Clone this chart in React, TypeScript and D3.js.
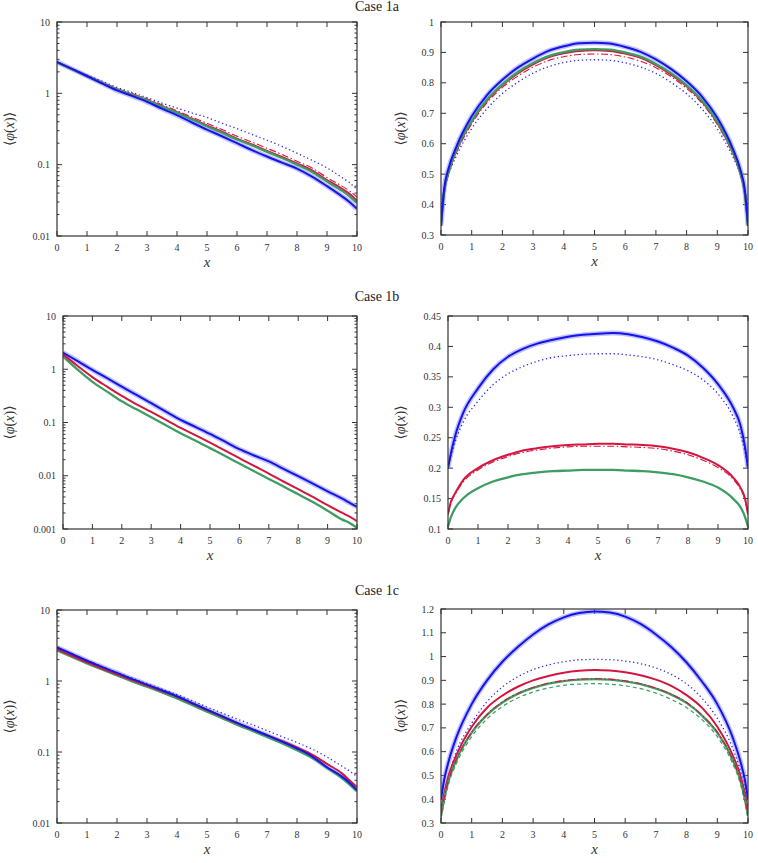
import * as d3 from 'd3';

const W = 758;
const H = 863;

// sample positions
const xGrid = [0, 0.1, 0.25, 0.5, 1, 1.5, 2, 2.5, 3, 3.5, 4, 4.5, 5, 5.5, 6, 6.5, 7, 7.5, 8, 8.5, 9, 9.5, 9.75, 9.9, 10];
const xGridLog = [0, 0.5, 1, 1.5, 2, 2.5, 3, 3.5, 4, 4.5, 5, 5.5, 6, 6.5, 7, 7.5, 8, 8.5, 9, 9.5, 9.75, 10];

const xTicks = [0, 1, 2, 3, 4, 5, 6, 7, 8, 9, 10];
const yTicksLog2 = [0.01, 0.1, 1, 10];
const yTicksLog3 = [0.001, 0.01, 0.1, 1, 10];
const yTicks1a = [0.3, 0.4, 0.5, 0.6, 0.7, 0.8, 0.9, 1];
const yTicks1b = [0.1, 0.15, 0.2, 0.25, 0.3, 0.35, 0.4, 0.45];
const yTicks1c = [0.3, 0.4, 0.5, 0.6, 0.7, 0.8, 0.9, 1, 1.1, 1.2];

// Case 1a, log scale
const c1aLogMC = [2.75, 2.2, 1.75, 1.38, 1.1, 0.92, 0.76, 0.61, 0.495, 0.39, 0.31, 0.25, 0.2, 0.16, 0.13, 0.107, 0.088, 0.068, 0.05, 0.036, 0.03, 0.024];
const c1aLogGreen = [2.72, 2.18, 1.74, 1.39, 1.13, 0.95, 0.8, 0.65, 0.535, 0.43, 0.345, 0.28, 0.225, 0.186, 0.151, 0.124, 0.1, 0.079, 0.058, 0.043, 0.036, 0.029];
const c1aLogRed = [2.72, 2.18, 1.75, 1.4, 1.14, 0.96, 0.81, 0.66, 0.545, 0.44, 0.355, 0.29, 0.232, 0.192, 0.156, 0.128, 0.104, 0.083, 0.061, 0.046, 0.039, 0.031];
const c1aLogRedDD = [2.7, 2.2, 1.78, 1.44, 1.17, 0.99, 0.84, 0.69, 0.57, 0.465, 0.38, 0.31, 0.25, 0.207, 0.17, 0.139, 0.112, 0.09, 0.066, 0.05, 0.043, 0.035];
const c1aLogBlueDot = [2.72, 2.22, 1.8, 1.48, 1.21, 1.03, 0.87, 0.73, 0.62, 0.53, 0.46, 0.38, 0.32, 0.265, 0.22, 0.18, 0.145, 0.115, 0.09, 0.066, 0.056, 0.045];

// Case 1a, linear scale
const c1aMC = [0.33, 0.45, 0.52, 0.59, 0.69, 0.76, 0.81, 0.85, 0.88, 0.905, 0.92, 0.93, 0.932, 0.929, 0.918, 0.902, 0.877, 0.845, 0.805, 0.755, 0.685, 0.585, 0.515, 0.445, 0.33];
const c1aGreen = [0.33, 0.44, 0.51, 0.58, 0.675, 0.745, 0.795, 0.835, 0.865, 0.888, 0.901, 0.909, 0.911, 0.909, 0.9, 0.886, 0.862, 0.831, 0.792, 0.742, 0.672, 0.575, 0.505, 0.435, 0.33];
const c1aRed = [0.335, 0.44, 0.507, 0.577, 0.672, 0.742, 0.792, 0.831, 0.861, 0.884, 0.897, 0.905, 0.907, 0.905, 0.896, 0.882, 0.858, 0.827, 0.789, 0.739, 0.669, 0.572, 0.503, 0.435, 0.335];
const c1aRedDD = [0.35, 0.44, 0.505, 0.57, 0.665, 0.735, 0.785, 0.822, 0.852, 0.873, 0.886, 0.893, 0.895, 0.893, 0.885, 0.871, 0.85, 0.82, 0.782, 0.733, 0.663, 0.568, 0.503, 0.44, 0.35];
const c1aBlueDot = [0.39, 0.45, 0.5, 0.56, 0.65, 0.715, 0.765, 0.802, 0.832, 0.853, 0.867, 0.874, 0.876, 0.874, 0.866, 0.852, 0.831, 0.801, 0.764, 0.714, 0.649, 0.558, 0.5, 0.45, 0.39];

// Case 1b, log scale
const c1bLogMC = [2.05, 1.42, 0.97, 0.68, 0.47, 0.33, 0.23, 0.16, 0.112, 0.083, 0.061, 0.044, 0.0316, 0.024, 0.0186, 0.0135, 0.0098, 0.0071, 0.0051, 0.0037, 0.0031, 0.0026];
const c1bLogRed = [1.9, 1.15, 0.71, 0.47, 0.316, 0.22, 0.158, 0.112, 0.079, 0.058, 0.042, 0.03, 0.0214, 0.0153, 0.011, 0.0078, 0.0056, 0.004, 0.0028, 0.002, 0.0017, 0.0014];
const c1bLogGreen = [1.75, 0.98, 0.58, 0.38, 0.25, 0.177, 0.126, 0.089, 0.063, 0.046, 0.033, 0.0237, 0.017, 0.0122, 0.0087, 0.0063, 0.0045, 0.0032, 0.0022, 0.0015, 0.0013, 0.00105];

// Case 1b, linear scale
const c1bMC = [0.2, 0.225, 0.255, 0.29, 0.331, 0.362, 0.383, 0.396, 0.405, 0.411, 0.416, 0.419, 0.421, 0.422, 0.42, 0.415, 0.408, 0.398, 0.385, 0.365, 0.338, 0.3, 0.27, 0.235, 0.2];
const c1bBlueDot = [0.2, 0.22, 0.245, 0.275, 0.31, 0.337, 0.355, 0.367, 0.376, 0.382, 0.385, 0.387, 0.388, 0.388, 0.386, 0.383, 0.378, 0.37, 0.36, 0.345, 0.322, 0.285, 0.255, 0.227, 0.2];
const c1bRed = [0.125, 0.145, 0.16, 0.18, 0.2, 0.213, 0.222, 0.229, 0.233, 0.236, 0.238, 0.239, 0.24, 0.24, 0.239, 0.238, 0.236, 0.232, 0.226, 0.217, 0.205, 0.185, 0.168, 0.15, 0.125];
const c1bRedDD = [0.123, 0.143, 0.158, 0.177, 0.197, 0.21, 0.219, 0.226, 0.23, 0.233, 0.235, 0.236, 0.236, 0.236, 0.235, 0.234, 0.232, 0.228, 0.222, 0.213, 0.201, 0.182, 0.165, 0.148, 0.123];
const c1bGreen = [0.104, 0.12, 0.135, 0.15, 0.167, 0.178, 0.185, 0.19, 0.193, 0.195, 0.196, 0.197, 0.197, 0.197, 0.196, 0.195, 0.193, 0.19, 0.185, 0.178, 0.168, 0.15, 0.136, 0.12, 0.104];

// Case 1c, log scale
const c1cLogMC = [2.97, 2.4, 1.93, 1.58, 1.3, 1.07, 0.89, 0.74, 0.61, 0.49, 0.395, 0.32, 0.257, 0.21, 0.172, 0.14, 0.112, 0.087, 0.061, 0.045, 0.037, 0.029];
const c1cLogRed = [2.8, 2.25, 1.83, 1.5, 1.24, 1.03, 0.86, 0.72, 0.6, 0.485, 0.39, 0.315, 0.255, 0.21, 0.173, 0.143, 0.116, 0.092, 0.068, 0.05, 0.04, 0.032];
const c1cLogGreen = [2.7, 2.18, 1.77, 1.45, 1.2, 0.99, 0.83, 0.69, 0.57, 0.46, 0.37, 0.3, 0.243, 0.2, 0.163, 0.133, 0.106, 0.083, 0.06, 0.043, 0.035, 0.028];
const c1cLogBlueDot = [2.95, 2.4, 1.95, 1.6, 1.32, 1.1, 0.92, 0.77, 0.645, 0.53, 0.43, 0.355, 0.292, 0.243, 0.2, 0.165, 0.136, 0.11, 0.085, 0.063, 0.054, 0.045];

// Case 1c, linear scale
const c1cMC = [0.4, 0.48, 0.56, 0.66, 0.8, 0.9, 0.978, 1.04, 1.093, 1.135, 1.165, 1.183, 1.19, 1.185, 1.168, 1.137, 1.093, 1.04, 0.975, 0.895, 0.8, 0.66, 0.56, 0.48, 0.4];
const c1cBlueDot = [0.36, 0.42, 0.5, 0.6, 0.72, 0.81, 0.872, 0.915, 0.945, 0.965, 0.978, 0.986, 0.988, 0.987, 0.981, 0.97, 0.952, 0.925, 0.885, 0.825, 0.74, 0.615, 0.52, 0.44, 0.36];
const c1cRed = [0.35, 0.42, 0.5, 0.585, 0.705, 0.785, 0.836, 0.873, 0.9, 0.918, 0.932, 0.94, 0.943, 0.941, 0.934, 0.921, 0.903, 0.877, 0.838, 0.785, 0.705, 0.585, 0.5, 0.42, 0.35];
const c1cGreen = [0.33, 0.4, 0.48, 0.565, 0.68, 0.755, 0.807, 0.843, 0.868, 0.886, 0.897, 0.903, 0.905, 0.903, 0.896, 0.884, 0.865, 0.84, 0.805, 0.752, 0.68, 0.565, 0.48, 0.4, 0.33];
const c1cRedDD = [0.332, 0.402, 0.482, 0.567, 0.682, 0.757, 0.809, 0.845, 0.87, 0.888, 0.899, 0.905, 0.907, 0.905, 0.898, 0.886, 0.867, 0.842, 0.807, 0.754, 0.682, 0.567, 0.482, 0.402, 0.332];
const c1cGreenDash = [0.32, 0.385, 0.465, 0.55, 0.663, 0.738, 0.79, 0.826, 0.851, 0.868, 0.879, 0.884, 0.886, 0.884, 0.877, 0.865, 0.846, 0.82, 0.785, 0.735, 0.663, 0.55, 0.465, 0.385, 0.32];

const BLUE = '#1414e6';
const RED = '#d4163f';
const GREEN = '#3e9d63';
const FRAME = '#333';
const FONT = '"Liberation Serif", "DejaVu Serif", serif';

type LineStyle = { color: string; width: number; dash?: string; halo?: boolean };

const mcStyle: LineStyle = { color: BLUE, width: 2, halo: true };
const blueDotStyle: LineStyle = { color: '#2b2bf2', width: 1.3, dash: '1.3,2.7' };
const redStyle: LineStyle = { color: RED, width: 2 };
const redDDStyle: LineStyle = { color: RED, width: 1.1, dash: '7,2.5,1.5,2.5' };
const greenStyle: LineStyle = { color: GREEN, width: 2.3 };
const greenDashStyle: LineStyle = { color: GREEN, width: 1.2, dash: '4,3' };

type Series = { xs: number[]; ys: number[]; style: LineStyle };
type Box = { left: number; top: number; right: number; bottom: number };

type PanelProps = {
  id: string;
  box: Box;
  log: boolean;
  yDomain: [number, number];
  yTicks: number[];
  series: Series[];
  yLabelX: number;
};

function Panel({ id, box, log, yDomain, yTicks, series, yLabelX }: PanelProps) {
  const x = d3.scaleLinear().domain([0, 10]).range([box.left, box.right]);
  const y = log
    ? d3.scaleLog().domain(yDomain).range([box.bottom, box.top])
    : d3.scaleLinear().domain(yDomain).range([box.bottom, box.top]);

  const line = (s: Series) =>
    d3
      .line<number>()
      .x((_, i) => x(s.xs[i]))
      .y((d) => y(d))
      .curve(d3.curveMonotoneX)(s.ys) || '';

  const minor: number[] = [];
  if (log) {
    yTicks.slice(0, -1).forEach((t) => {
      for (let k = 2; k <= 9; k++) minor.push(t * k);
    });
  }

  const major = 5;
  const small = 2.5;
  const midY = (box.top + box.bottom) / 2;
  const fmt = (t: number) => (log ? String(t) : String(+t.toFixed(2)));

  return (
    <g>
      <defs>
        <clipPath id={`clip-${id}`}>
          <rect x={box.left} y={box.top} width={box.right - box.left} height={box.bottom - box.top} />
        </clipPath>
      </defs>

      {/* ticks, mirrored on all four sides */}
      <g stroke={FRAME} strokeWidth={1}>
        {xTicks.map((t) => (
          <g key={`xt${t}`}>
            <line x1={x(t)} x2={x(t)} y1={box.bottom} y2={box.bottom - major} />
            <line x1={x(t)} x2={x(t)} y1={box.top} y2={box.top + major} />
          </g>
        ))}
        {yTicks.map((t) => (
          <g key={`yt${t}`}>
            <line x1={box.left} x2={box.left + major} y1={y(t)} y2={y(t)} />
            <line x1={box.right} x2={box.right - major} y1={y(t)} y2={y(t)} />
          </g>
        ))}
        {minor.map((t) => (
          <g key={`mt${t}`}>
            <line x1={box.left} x2={box.left + small} y1={y(t)} y2={y(t)} />
            <line x1={box.right} x2={box.right - small} y1={y(t)} y2={y(t)} />
          </g>
        ))}
      </g>

      <g clipPath={`url(#clip-${id})`} fill="none" strokeLinejoin="round">
        {series.map((s, i) =>
          s.style.halo ? (
            <path key={`h${i}`} d={line(s)} stroke="#8c8cff" strokeWidth={5} strokeOpacity={0.55} />
          ) : null
        )}
        {series.map((s, i) => (
          <path
            key={i}
            d={line(s)}
            stroke={s.style.color}
            strokeWidth={s.style.width}
            strokeDasharray={s.style.dash}
          />
        ))}
      </g>

      <rect
        x={box.left}
        y={box.top}
        width={box.right - box.left}
        height={box.bottom - box.top}
        fill="none"
        stroke={FRAME}
        strokeWidth={1.2}
      />

      <g fontFamily={FONT} fontSize={10} fill="#333">
        {xTicks.map((t) => (
          <text key={`xl${t}`} x={x(t)} y={box.bottom + 15} textAnchor="middle">
            {t}
          </text>
        ))}
        {yTicks.map((t) => (
          <text key={`yl${t}`} x={box.left - 7} y={y(t) + 3.5} textAnchor="end">
            {fmt(t)}
          </text>
        ))}
      </g>

      <text
        x={(box.left + box.right) / 2}
        y={box.bottom + 31}
        textAnchor="middle"
        fontFamily={FONT}
        fontStyle="italic"
        fontSize={15}
        fill="#333"
      >
        x
      </text>
      <text
        transform={`translate(${yLabelX},${midY}) rotate(-90)`}
        textAnchor="middle"
        fontFamily={FONT}
        fontSize={14}
        fill="#333"
      >
        ⟨<tspan fontStyle="italic">φ</tspan>(<tspan fontStyle="italic">x</tspan>)⟩
      </text>
    </g>
  );
}

export default function App() {
  const rows = [
    {
      title: 'Case 1a',
      titleY: 11,
      left: {
        box: { left: 57, top: 22, right: 357, bottom: 236 },
        log: true,
        yDomain: [0.01, 10] as [number, number],
        yTicks: yTicksLog2,
        series: [
          { xs: xGridLog, ys: c1aLogBlueDot, style: blueDotStyle },
          { xs: xGridLog, ys: c1aLogRedDD, style: redDDStyle },
          { xs: xGridLog, ys: c1aLogRed, style: redStyle },
          { xs: xGridLog, ys: c1aLogGreen, style: greenStyle },
          { xs: xGridLog, ys: c1aLogMC, style: mcStyle },
        ],
      },
      right: {
        box: { left: 441, top: 22, right: 748, bottom: 235 },
        log: false,
        yDomain: [0.3, 1] as [number, number],
        yTicks: yTicks1a,
        series: [
          { xs: xGrid, ys: c1aBlueDot, style: blueDotStyle },
          { xs: xGrid, ys: c1aRedDD, style: redDDStyle },
          { xs: xGrid, ys: c1aRed, style: redStyle },
          { xs: xGrid, ys: c1aGreen, style: greenStyle },
          { xs: xGrid, ys: c1aMC, style: mcStyle },
        ],
      },
    },
    {
      title: 'Case 1b',
      titleY: 301,
      left: {
        box: { left: 63, top: 316, right: 357, bottom: 529 },
        log: true,
        yDomain: [0.001, 10] as [number, number],
        yTicks: yTicksLog3,
        series: [
          { xs: xGridLog, ys: c1bLogGreen, style: greenStyle },
          { xs: xGridLog, ys: c1bLogRed, style: redStyle },
          { xs: xGridLog, ys: c1bLogMC, style: mcStyle },
        ],
      },
      right: {
        box: { left: 448, top: 316, right: 748, bottom: 529 },
        log: false,
        yDomain: [0.1, 0.45] as [number, number],
        yTicks: yTicks1b,
        series: [
          { xs: xGrid, ys: c1bBlueDot, style: blueDotStyle },
          { xs: xGrid, ys: c1bGreen, style: greenStyle },
          { xs: xGrid, ys: c1bRed, style: redStyle },
          { xs: xGrid, ys: c1bRedDD, style: redDDStyle },
          { xs: xGrid, ys: c1bMC, style: mcStyle },
        ],
      },
    },
    {
      title: 'Case 1c',
      titleY: 595,
      left: {
        box: { left: 57, top: 610, right: 357, bottom: 823 },
        log: true,
        yDomain: [0.01, 10] as [number, number],
        yTicks: yTicksLog2,
        series: [
          { xs: xGridLog, ys: c1cLogBlueDot, style: blueDotStyle },
          { xs: xGridLog, ys: c1cLogGreen, style: greenStyle },
          { xs: xGridLog, ys: c1cLogRed, style: redStyle },
          { xs: xGridLog, ys: c1cLogMC, style: mcStyle },
        ],
      },
      right: {
        box: { left: 441, top: 609, right: 748, bottom: 823 },
        log: false,
        yDomain: [0.3, 1.2] as [number, number],
        yTicks: yTicks1c,
        series: [
          { xs: xGrid, ys: c1cBlueDot, style: blueDotStyle },
          { xs: xGrid, ys: c1cRed, style: redStyle },
          { xs: xGrid, ys: c1cGreen, style: greenStyle },
          { xs: xGrid, ys: c1cGreenDash, style: greenDashStyle },
          { xs: xGrid, ys: c1cRedDD, style: redDDStyle },
          { xs: xGrid, ys: c1cMC, style: mcStyle },
        ],
      },
    },
  ];

  return (
    <svg
      width={W}
      height={H}
      viewBox={`0 0 ${W} ${H}`}
      style={{ position: 'absolute', left: 0, top: 0, background: '#fff' }}
    >
      <rect width={W} height={H} fill="#fff" />
      {rows.map((r, i) => (
        <g key={r.title}>
          <text x={377} y={r.titleY} textAnchor="middle" fontFamily={FONT} fontSize={14} fill="#222">
            {r.title}
          </text>
          <Panel id={`l${i}`} yLabelX={14} {...r.left} />
          <Panel id={`r${i}`} yLabelX={405} {...r.right} />
        </g>
      ))}
    </svg>
  );
}
